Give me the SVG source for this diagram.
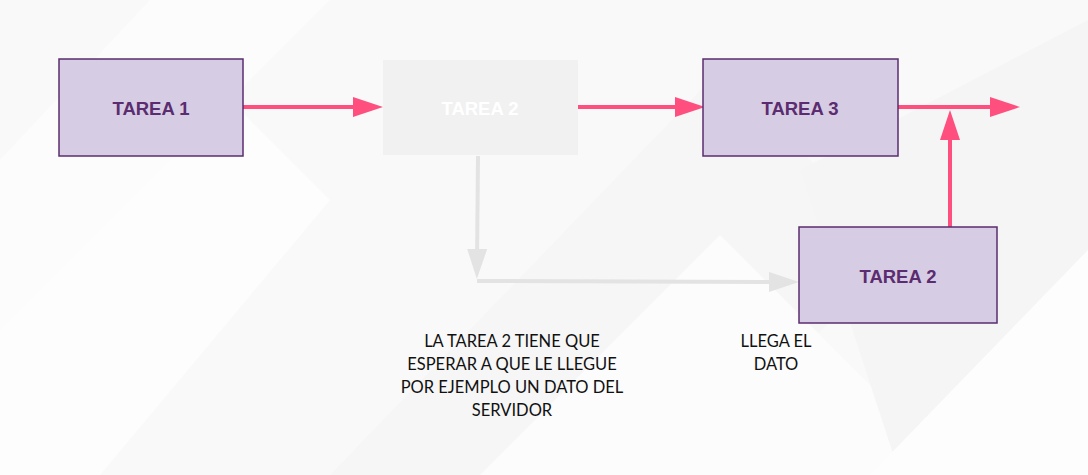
<svg xmlns="http://www.w3.org/2000/svg" width="1088" height="475" viewBox="0 0 1088 475">
<defs>
<style>
.node{fill:#d6cce3;stroke:#5b2c6f;stroke-width:1.5}
.ghost{fill:#f1f1f1;stroke:none}
.lbl{font-family:"Liberation Sans",Arial,sans-serif;font-weight:bold;font-size:18.5px;fill:#5b2c6f;text-anchor:middle}
.lbl.w{fill:#ffffff}
.note{font-family:Lato,"Open Sans",sans-serif;font-size:16.5px;fill:#111;text-anchor:middle}
.pink{stroke:#ff4f7e;stroke-width:4;fill:none}
.gray{stroke:#e3e3e3;stroke-width:4;fill:none}
</style>
<marker id="ap" viewBox="0 0 30 20" refX="15" refY="10" markerUnits="userSpaceOnUse" markerWidth="30" markerHeight="20" orient="auto"><path d="M0,0 L30,10 L0,20 Z" fill="#ff4f7e"/></marker>
<marker id="ag" viewBox="0 0 30 20" refX="15" refY="10" markerUnits="userSpaceOnUse" markerWidth="30" markerHeight="20" orient="auto"><path d="M0,0 L30,10 L0,20 Z" fill="#e3e3e3"/></marker>
</defs>
<g id="background">
<rect width="1088" height="475" fill="#f9f9f9"/>
<polygon points="0,160 150,0 330,0 0,330" fill="#fcfcfc"/>
<polygon points="330,475 720,70 900,250 680,475" fill="#f6f6f6"/>
<polygon points="480,475 720,235 960,475" fill="#fcfcfc"/>
<polygon points="800,170 1088,20 1088,475 900,475" fill="#f5f5f5"/>
<polygon points="870,475 1088,250 1088,475" fill="#fdfdfd"/>
<polygon points="0,330 230,100 330,200 100,475 0,475" fill="#fdfdfd"/>
</g>
<g id="connectors">
<line class="pink" x1="243" y1="107" x2="368" y2="107" marker-end="url(#ap)"/>
<line class="pink" x1="578" y1="107" x2="690" y2="107" marker-end="url(#ap)"/>
<line class="pink" x1="892" y1="107" x2="1005" y2="107" marker-end="url(#ap)"/>
<line class="pink" x1="950" y1="227" x2="950" y2="125" marker-end="url(#ap)"/>
<line class="gray" x1="478" y1="156" x2="477" y2="264" marker-end="url(#ag)"/>
<line class="gray" x1="477" y1="281" x2="784" y2="282" marker-end="url(#ag)"/>
</g>
<g id="tarea1">
<rect class="node" x="59" y="59" width="184" height="97"/>
<text class="lbl" x="151" y="115">TAREA 1</text>
</g>
<g id="tarea2-espera">
<rect class="ghost" x="383" y="60" width="195" height="95"/>
<text class="lbl w" x="480" y="115">TAREA 2</text>
</g>
<g id="tarea3">
<rect class="node" x="703" y="59" width="195" height="97"/>
<text class="lbl" x="800" y="115">TAREA 3</text>
</g>
<g id="tarea2">
<rect class="node" x="799" y="227" width="198" height="96"/>
<text class="lbl" x="898" y="283">TAREA 2</text>
</g>
<g id="nota-espera">
<text class="note" x="512" y="347">LA TAREA 2 TIENE QUE</text>
<text class="note" x="512" y="370">ESPERAR A QUE LE LLEGUE</text>
<text class="note" x="512" y="393">POR EJEMPLO UN DATO DEL</text>
<text class="note" x="512" y="416">SERVIDOR</text>
</g>
<g id="nota-llega">
<text class="note" x="776" y="347">LLEGA EL</text>
<text class="note" x="776" y="370">DATO</text>
</g>
</svg>
